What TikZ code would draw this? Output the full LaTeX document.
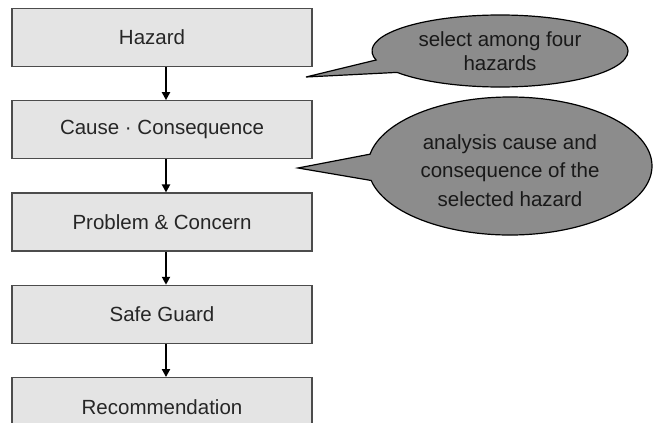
\documentclass[tikz,border=0pt]{standalone}
\usepackage{fontspec}
\setmainfont{Liberation Sans}
\usetikzlibrary{shapes, shapes.callouts, arrows.meta, positioning}

\definecolor{boxgray}{RGB}{228,228,228}
\definecolor{bubblegray}{RGB}{140,140,140}

\begin{document}
\begin{tikzpicture}[x=1pt, y=1pt,
    stage/.style={draw=black!70, line width=1.3pt, fill=boxgray, minimum width=300pt, minimum height=58pt, font=\fontsize{20.5}{24}\selectfont, text=black!85},
    flow/.style={-{Triangle[length=8pt, width=8pt]}, line width=2pt},
    note/.style={ellipse callout, draw=black, line width=1.2pt, fill=bubblegray, align=center, text=black!90}]
\useasboundingbox (0,0) rectangle (656,-423);

\node[stage] (hazard) at (162,-37.5) {Hazard\hspace*{20pt}};
\node[stage, below=33pt of hazard] (cause) {Cause · Consequence};
\node[stage, below=33pt of cause] (problem) {Problem \& Concern};
\node[stage, below=33pt of problem] (guard) {Safe Guard};
\node[stage, below=33pt of guard] (recom) {Recommendation};

\foreach \a/\b in {hazard/cause, cause/problem, problem/guard, guard/recom}
    \draw[flow] ([xshift=4pt]\a.south) -- ([xshift=4pt]\b.north);

% speech bubbles
\coordinate (tipA) at (306,-77);
\coordinate (tipB) at (298,-168);

\node[note, minimum width=256pt, minimum height=72pt, font=\fontsize{20.5}{24}\selectfont,
    callout absolute pointer={(tipA)}, callout pointer arc=22] (selnote) at (500,-51) {select among four\\hazards};
\node[note, minimum width=284pt, minimum height=138pt, font=\fontsize{20.5}{28.5}\selectfont,
    callout absolute pointer={(tipB)}, callout pointer arc=22] (anlnote) at (510,-166)
    {\raisebox{-11pt}[0pt][0pt]{\begin{tabular}{@{}c@{}}analysis cause and\\consequence of the\\selected hazard\end{tabular}}};
\end{tikzpicture}
\end{document}
